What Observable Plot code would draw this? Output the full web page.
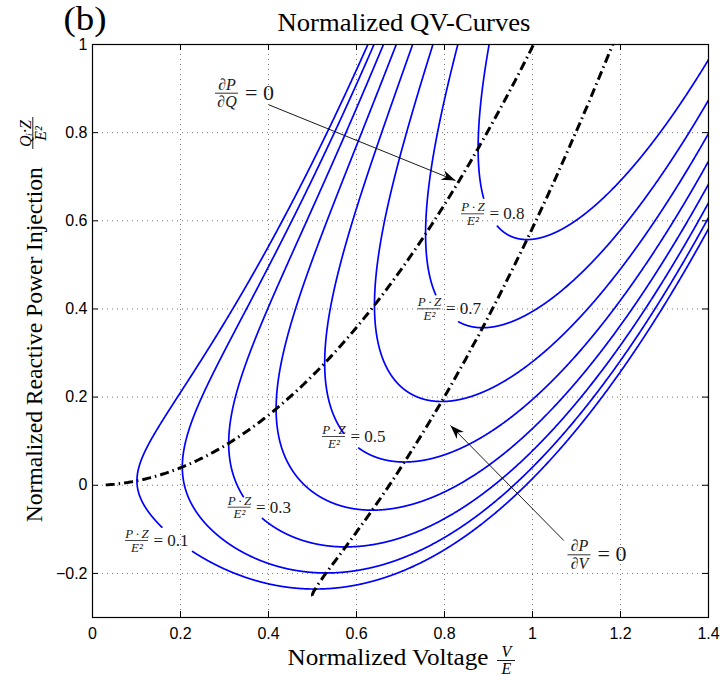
<!DOCTYPE html>
<html>
<head>
<meta charset="utf-8">
<script src="https://cdn.jsdelivr.net/npm/d3@7"></script>
<script src="https://cdn.jsdelivr.net/npm/@observablehq/plot@0.6"></script>
<style>html,body{margin:0;padding:0;background:#fff;}</style>
</head>
<body>
<div id="chart"></div>
<script>
// ---------------- data ----------------
const levels = [0.1, 0.2, 0.3, 0.4, 0.5, 0.6, 0.7, 0.8];   // P·Z/E² of each QV-curve
const labelledLevels = [0.1, 0.3, 0.5, 0.7, 0.8];          // curves that carry an inline label
const lineRX = [0.1];                                      // R/X ratio of the line impedance Z
const xTicks = [0, 0.2, 0.4, 0.6, 0.8, 1, 1.2, 1.4];
const yTicks = [-0.2, 0, 0.2, 0.4, 0.6, 0.8, 1];
const xDomain = [0, 1.4];
const yDomain = [-0.3, 1];
const titleText = "Normalized QV-Curves";
const panelText = "(b)";
const xLabelText = "Normalized Voltage";
const yLabelText = "Normalized Reactive Power Injection";

// ---------------- layout ----------------
const W = 725, H = 676, ML = 92, MR = 17, MT = 44, MB = 59;
const innerW = W - ML - MR, innerH = H - MT - MB;
const kx = innerW / (xDomain[1] - xDomain[0]);
const ky = innerH / (yDomain[1] - yDomain[0]);
const X = px => xDomain[0] + (px - ML) / kx;   // pixel -> data (annotations only)
const Y = py => yDomain[1] - (py - MT) / ky;

const serif = "'Liberation Serif','Times New Roman',serif";
const sans = "'Liberation Sans',Arial,Helvetica,sans-serif";

// ---------------- QV-curve model ----------------
const rx = lineRX[0];
const cz = rx / Math.hypot(1, rx), sz = 1 / Math.hypot(1, rx);

// inline-label anchors (fraction-bar centre, pixels) and the gap each label cuts in its curve (V/E range)
const labelAnchorPx = [[136.5, 540], [239, 506.7], [333.5, 436], [429, 308.3], [472.5, 213.3]];
const labelGapV = [[0.158, 0.227], [0.343, 0.386], [0.571, 0.605], [0.78, 0.832], [0.889, 0.92]];

function curve(p, gap) {
  const vn = 2 * p / (1 + Math.sqrt(1 - 4 * cz * p));      // nose voltage
  const tmax = Math.sqrt(1.5 - vn), N = 1500;
  const upper = [], lower = [];
  for (let i = 0; i <= N; i++) {
    const t = tmax * i / N, v = vn + t * t;
    const r = Math.sqrt(Math.max(0, v * v - (p + cz * v * v) ** 2)), base = sz * v * v;
    const qu = base + r;
    if (qu <= 1.08) upper.push({p, v, q: qu});
    let ql = base - r;
    if (ql <= 1.08) {
      if (gap && v > gap[0] && v < gap[1]) ql = NaN;
      lower.push({p, v, q: ql});
    }
  }
  return upper.reverse().concat(lower);
}
const curves = levels.flatMap(p => {
  const li = labelledLevels.indexOf(p);
  return curve(p, li >= 0 ? labelGapV[li] : null);
});

// locus of the curve minima (dP/dV = 0)
const minLocus = [];
for (let k = 0; k <= 120; k++) {
  const p = k / 100;
  let best = null;
  for (let v = 0.001; v <= 2; v += 0.0005) {
    const d = v * v - (p + cz * v * v) ** 2;
    if (d < 0) continue;
    const q = sz * v * v - Math.sqrt(d);
    if (!best || q < best.q) best = {v, q};
  }
  if (best && best.q < 1.1) minLocus.push(best);
}
// locus of the noses (dP/dQ = 0)
const noseLocus = d3.range(0.03, 1.021, 0.005).map(v => ({v, q: sz * v * v}));

// ---------------- annotations ----------------
const fracLabels = labelledLevels.map((p, i) => ({p, v: X(labelAnchorPx[i][0]), q: Y(labelAnchorPx[i][1])}));
const barHalf = 11.5 / kx;

const derivLabels = [
  {num: "∂P", den: "∂Q", v: X(226.5), q: Y(92.7)},
  {num: "∂P", den: "∂V", v: X(579), q: Y(554.3)}
];
const arrows = [
  {v1: X(268.3), q1: Y(104.3), v2: X(455), q2: Y(180)},
  {v1: X(563.3), q1: Y(540), v2: X(450), q2: Y(425)}
];
function headSymbol(a) {
  const dx = (a.v2 - a.v1) * kx, dy = -(a.q2 - a.q1) * ky, len = Math.hypot(dx, dy);
  const ux = dx / len, uy = dy / len, nx = -uy, ny = ux, L = 14, Wd = 5;
  return {draw(ctx) {
    ctx.moveTo(0, 0);
    ctx.lineTo(-L * ux + Wd * nx, -L * uy + Wd * ny);
    ctx.lineTo(-0.7 * L * ux, -0.7 * L * uy);
    ctx.lineTo(-L * ux - Wd * nx, -L * uy - Wd * ny);
    ctx.closePath();
  }};
}

const fmt = d => (d < 0 ? "−" : "") + String(Math.abs(d));
const one = [{}];
const txt = "#1a1a1a";
const dashDot = {stroke: "black", strokeWidth: 3, strokeDasharray: "9,4,1.5,4", strokeLinecap: "butt", strokeLinejoin: "miter", clip: true};

const marks = [
  // dotted grid
  Plot.ruleX(xTicks, {x: d => d, stroke: "#777", strokeDasharray: "1,4", strokeWidth: 1}),
  Plot.ruleY(yTicks, {y: d => d, stroke: "#777", strokeDasharray: "1,4", strokeWidth: 1}),
  // inward ticks on all four sides
  Plot.ruleX(xTicks, {x: d => d, insetTop: innerH - 6, stroke: "black"}),
  Plot.ruleX(xTicks, {x: d => d, insetBottom: innerH - 6, stroke: "black"}),
  Plot.ruleY(yTicks, {y: d => d, insetRight: innerW - 6, stroke: "black"}),
  Plot.ruleY(yTicks, {y: d => d, insetLeft: innerW - 6, stroke: "black"}),
  Plot.axisX({ticks: xTicks, tickSize: 0, tickPadding: 10, tickFormat: fmt, label: null, fontSize: 16, fontFamily: sans}),
  Plot.axisY({ticks: yTicks, tickSize: 0, tickPadding: 5, tickFormat: fmt, label: null, fontSize: 16, fontFamily: sans}),
  // QV curves
  Plot.line(curves, {x: "v", y: "q", z: "p", stroke: "#0000ff", strokeWidth: 1.7, clip: true}),
  // loci
  Plot.line(noseLocus, {x: "v", y: "q", ...dashDot}),
  Plot.line(minLocus, {x: "v", y: "q", ...dashDot}),
  // inline curve labels
  Plot.text(fracLabels, {x: "v", y: "q", text: () => "P\u2009·\u2009Z", fontFamily: serif, fontStyle: "italic", fontSize: 13, lineAnchor: "bottom", dy: -2.5, fill: txt}),
  Plot.text(fracLabels, {x: "v", y: "q", text: () => "E²", fontFamily: serif, fontStyle: "italic", fontSize: 13, lineAnchor: "top", dy: 2, fill: txt}),
  Plot.ruleY(fracLabels, {y: "q", x1: d => d.v - barHalf, x2: d => d.v + barHalf, stroke: txt, strokeWidth: 0.8}),
  Plot.text(fracLabels, {x: "v", y: "q", text: d => `= ${d.p}`, fontFamily: serif, fontSize: 17, textAnchor: "start", dx: 16.5, lineAnchor: "bottom", dy: 5.5, fill: txt}),
  // derivative labels
  Plot.text(derivLabels, {x: "v", y: "q", text: "num", fontFamily: serif, fontStyle: "italic", fontSize: 16, lineAnchor: "bottom", dy: -3.5, fill: txt}),
  Plot.text(derivLabels, {x: "v", y: "q", text: "den", fontFamily: serif, fontStyle: "italic", fontSize: 16, lineAnchor: "top", dy: 2.5, fill: txt}),
  Plot.ruleY(derivLabels, {y: "q", x1: d => d.v - barHalf, x2: d => d.v + barHalf, stroke: txt, strokeWidth: 0.9}),
  Plot.text(derivLabels, {x: "v", y: "q", text: () => "= 0", fontFamily: serif, fontSize: 22, textAnchor: "start", dx: 18, lineAnchor: "bottom", dy: 6.5, fill: txt}),
  // arrows
  Plot.link(arrows, {x1: "v1", y1: "q1", x2: "v2", y2: "q2", stroke: "black", strokeWidth: 0.9}),
  ...arrows.map(a => Plot.dot([a], {x: "v2", y: "q2", symbol: headSymbol(a), fill: "black", stroke: "none"})),
  // title & panel letter
  Plot.text([titleText], {frameAnchor: "top", text: d => d, fontFamily: serif, fontSize: 25, textAnchor: "middle", lineAnchor: "bottom", dx: 3.5, dy: -14, fill: "black"}),
  Plot.text([panelText], {frameAnchor: "top-left", text: d => d, fontFamily: serif, fontSize: 33, textAnchor: "start", lineAnchor: "bottom", dx: -29, dy: -15, fill: "black"}),
  // x label
  Plot.text([xLabelText], {frameAnchor: "bottom-left", text: d => d, fontFamily: serif, fontSize: 24, textAnchor: "start", lineAnchor: "bottom", dx: 287 - ML, dy: 664.3 - (H - MB), fill: "black"}),
  Plot.text(["V"], {frameAnchor: "bottom-left", text: d => d, fontFamily: serif, fontStyle: "italic", fontSize: 16, textAnchor: "middle", lineAnchor: "bottom", dx: 506 - ML, dy: 656 - (H - MB), fill: "black"}),
  Plot.text(["E"], {frameAnchor: "bottom-left", text: d => d, fontFamily: serif, fontStyle: "italic", fontSize: 16, textAnchor: "middle", lineAnchor: "top", dx: 506 - ML, dy: 662.5 - (H - MB), fill: "black"}),
  Plot.ruleY(one, {y: () => Y(660), x1: () => X(497), x2: () => X(515), stroke: "black", strokeWidth: 0.9}),
  // y label
  Plot.text([yLabelText], {frameAnchor: "left", text: d => d, fontFamily: serif, fontSize: 24, rotate: -90, textAnchor: "middle", lineAnchor: "bottom", dx: 41.7 - ML, dy: 344.2 - (MT + innerH / 2), fill: "black"}),
  Plot.text(["Qᵢ·Z"], {frameAnchor: "left", text: d => d, fontFamily: serif, fontStyle: "italic", fontSize: 16, rotate: -90, textAnchor: "middle", lineAnchor: "bottom", dx: 30.5 - ML, dy: 133 - (MT + innerH / 2), fill: "black"}),
  Plot.text(["E²"], {frameAnchor: "left", text: d => d, fontFamily: serif, fontStyle: "italic", fontSize: 16, rotate: -90, textAnchor: "middle", lineAnchor: "top", dx: 34 - ML, dy: 133 - (MT + innerH / 2), fill: "black"}),
  Plot.ruleX(one, {x: () => X(32.3), y1: () => Y(117), y2: () => Y(149), stroke: "black", strokeWidth: 0.9}),
  Plot.frame({stroke: "black", strokeWidth: 1.2})
];

const chart = Plot.plot({
  width: W, height: H,
  marginLeft: ML, marginRight: MR, marginTop: MT, marginBottom: MB,
  x: {domain: xDomain, axis: null},
  y: {domain: yDomain, axis: null},
  style: {fontFamily: sans, fontSize: "16px", color: "black", background: "white", overflow: "visible"},
  marks
});
document.getElementById("chart").appendChild(chart);

// stretch the big serif labels to the reference's widths
const fitWidth = {[titleText]: 253, [panelText]: 43, [xLabelText]: 201, [yLabelText]: 355};
d3.select(chart).selectAll("text").each(function () {
  const w = fitWidth[this.textContent];
  if (w) { this.setAttribute("textLength", w); this.setAttribute("lengthAdjust", "spacingAndGlyphs"); }
});
</script>
</body>
</html>
